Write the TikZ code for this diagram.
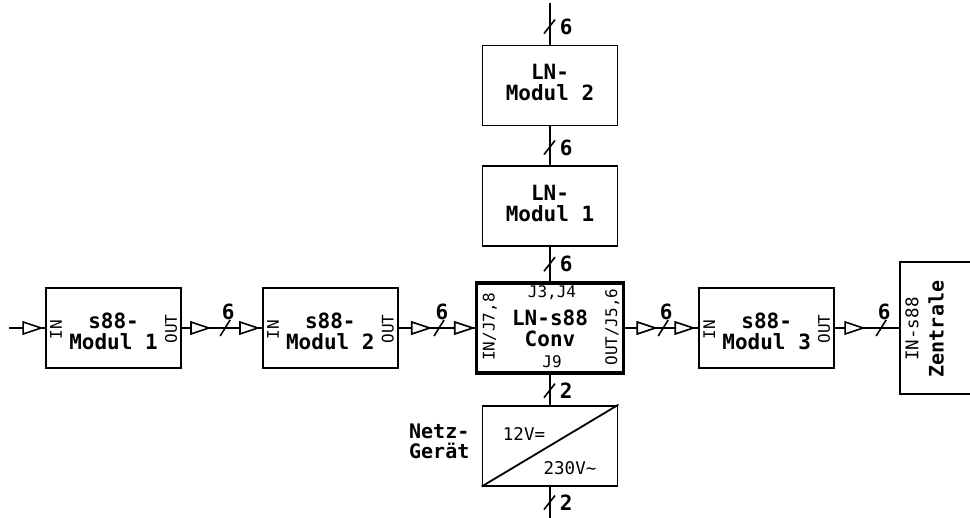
\documentclass[tikz,border=0pt]{standalone}
\usepackage{fontspec}
\usepackage{tikz}
\usetikzlibrary{positioning,calc}
\newfontfamily\plotfont{DejaVu Sans Mono}
\newcommand{\modfont}{\plotfont\bfseries\fontsize{21}{21}\selectfont}
\newcommand{\namefont}{\plotfont\bfseries\fontsize{20}{20}\selectfont}
\newcommand{\pinfont}{\plotfont\fontsize{16}{16}\selectfont}
\newcommand{\voltfont}{\plotfont\fontsize{17.5}{17.5}\selectfont}
\newcommand{\drop}{\rule{0pt}{22pt}}
\newcommand{\lift}{\rule[-6pt]{0pt}{6pt}}
\tikzset{
  modbox/.style={draw, line width=1.8pt, minimum width=135pt, minimum height=80pt, align=center, inner sep=0pt, font=\modfont},
  convbox/.style={modbox, line width=3.5pt, minimum width=147pt, minimum height=90pt},
  pinlbl/.style={inner sep=0pt, font=\pinfont},
  voltlbl/.style={inner sep=0pt, font=\voltfont},
  buslbl/.style={inner sep=0pt, font=\modfont},
  buf/.pic={\draw[fill=white, line width=1.6pt] (-9,-6) -- (9,0) -- (-9,6) -- cycle;},
  hbus/.pic={\draw[line width=1.6pt] (-5,8) -- (5,-8); \node[buslbl] at (3,-16) {#1};},
  vbus/.pic={\draw[line width=1.6pt] (-6,7) -- (5,-7); \node[buslbl, anchor=west] at (9,0) {#1};}
}
\begin{document}
\begin{tikzpicture}[x=1pt, y=-1pt, line width=1.8pt]
\path[use as bounding box, clip] (0,0) rectangle (970,518);
\node[convbox] (conv) at (550,328) {LN-s88\\Conv};
\node[modbox, above=34pt of conv] (lnm1) {LN-\\Modul 1\lift};
\node[modbox, above=39pt of lnm1] (lnm2) {LN-\\Modul 2\lift};
\node[modbox, left=76pt of conv] (m2) {\drop s88-\\Modul 2};
\node[modbox, left=80pt of m2] (m1) {\drop s88-\\Modul 1};
\node[modbox, right=73pt of conv] (m3) {\drop s88-\\Modul 3};
\node[modbox, minimum width=80pt, minimum height=132pt, right=64pt of m3] (zent) {};
\node[modbox, below=30pt of conv] (netz) {};

\foreach \m in {m1,m2,m3} {
  \node[pinlbl, rotate=90] at ([shift={(11,2)}]\m.west) {IN};
  \node[pinlbl, rotate=90] at ([shift={(-11,1)}]\m.east) {OUT};
}
\node[pinlbl] (j34) at ([shift={(2,11)}]conv.north) {J3,J4};
\node[pinlbl] (j9) at ([shift={(2,-13)}]conv.south) {J9};
\node[pinlbl, rotate=90] (jin) at ([shift={(15,-1)}]conv.west) {IN/J7,8};
\node[pinlbl, rotate=90] (jout) at ([shift={(-13,-1)}]conv.east) {OUT/J5,6};
\node[pinlbl, rotate=90, font=\voltfont] (zin) at ([shift={(13,1)}]zent.west) {IN-s88};
\node[buslbl, rotate=90, font=\namefont] (zname) at ([shift={(37,1)}]zent.west) {Zentrale};
\node[voltlbl] (dc) at ([shift={(-26,-12)}]netz.center) {12V=};
\node[voltlbl] (ac) at ([shift={(20,22)}]netz.center) {230V\textasciitilde};
\node[align=center, font=\namefont, left=8pt of netz, yshift=4pt] (netzlbl) {Netz-\\Gerät};

\coordinate (src) at ([xshift=-36pt]m1.west);
\coordinate (lnend) at ([yshift=42pt]lnm2.north);
\coordinate (mains) at ([yshift=-34pt]netz.south);
\draw (src) -- (m1.west);
\draw (m1.east) -- (m2.west);
\draw (m2.east) -- (conv.west);
\draw (conv.east) -- (m3.west);
\draw (m3.east) -- (zent.west);
\draw (lnend) -- (lnm2.north);
\draw (lnm2.south) -- (lnm1.north);
\draw (lnm1.south) -- (conv.north);
\draw (conv.south) -- (netz.north);
\draw (netz.south) -- (mains);
\draw (netz.south west) -- (netz.north east);

\pic at ([xshift=-13pt]m1.west) {buf};
\pic at ([xshift=18pt]m1.east) {buf};
\pic at ([xshift=-13pt]m2.west) {buf};
\pic at ([xshift=22pt]m2.east) {buf};
\pic at ([xshift=-11pt]conv.west) {buf};
\pic at ([xshift=21pt]conv.east) {buf};
\pic at ([xshift=-14pt]m3.west) {buf};
\pic at ([xshift=19pt]m3.east) {buf};

\pic at ($(m1.east)!0.54!(m2.west)$) {hbus=6};
\pic at ($(m2.east)!0.53!(conv.west)$) {hbus=6};
\pic at ($(conv.east)!0.52!(m3.west)$) {hbus=6};
\pic at ($(m3.east)!0.72!(zent.west)$) {hbus=6};
\pic at ($(lnend)!0.57!(lnm2.north)$) {vbus=6};
\pic at ($(lnm2.south)!0.54!(lnm1.north)$) {vbus=6};
\pic at ($(lnm1.south)!0.5!(conv.north)$) {vbus=6};
\pic at ($(conv.south)!0.53!(netz.north)$) {vbus=2};
\pic at ($(netz.south)!0.47!(mains)$) {vbus=2};
\end{tikzpicture}
\end{document}
